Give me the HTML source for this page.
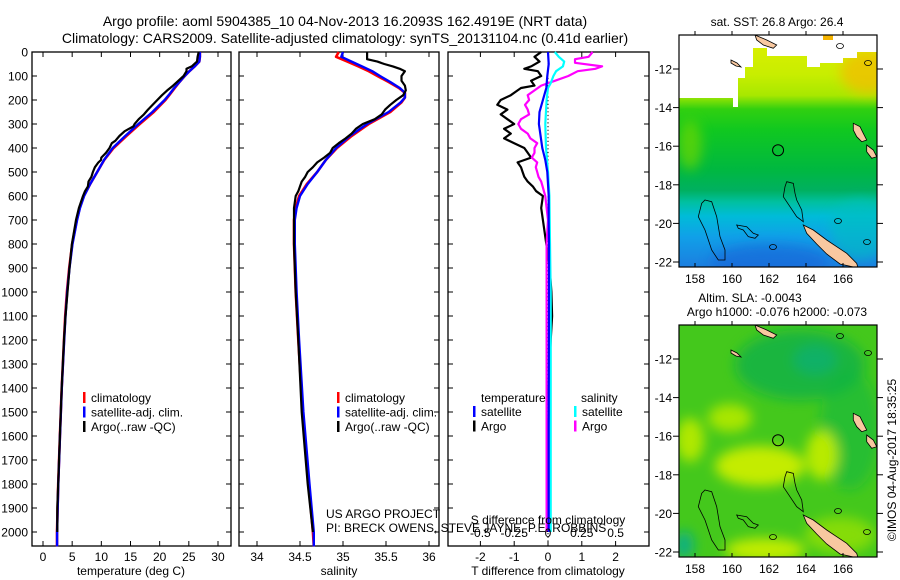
<!DOCTYPE html>
<html><head><meta charset="utf-8"><style>
html,body{margin:0;padding:0;background:#fff}
svg{display:block;font-family:"Liberation Sans",sans-serif}
text{fill:#000}
</style></head><body>
<svg id="c" width="900" height="580" viewBox="0 0 900 580" xmlns="http://www.w3.org/2000/svg">
<defs>
<linearGradient id="g1" x1="0" y1="0" x2="0" y2="1">
<stop offset="0" stop-color="#e0f000"/><stop offset="0.17" stop-color="#c8ee00"/><stop offset="0.26" stop-color="#a8e800"/>
<stop offset="0.32" stop-color="#30d010"/><stop offset="0.41" stop-color="#10c820"/><stop offset="0.58" stop-color="#00b840"/>
<stop offset="0.67" stop-color="#00b060"/><stop offset="0.72" stop-color="#00c0a0"/><stop offset="0.78" stop-color="#00bcd8"/>
<stop offset="0.87" stop-color="#10a0e8"/><stop offset="1" stop-color="#1c7ee0"/>
</linearGradient>
<filter id="bl" x="-50%" y="-50%" width="200%" height="200%"><feGaussianBlur stdDeviation="6"/></filter>
<clipPath id="cm1"><rect x="679" y="35" width="198" height="232"/></clipPath>
<clipPath id="cm2"><rect x="679" y="325" width="198" height="232"/></clipPath>
</defs>
<g id="titles">
<text x="345" y="26" font-size="14" text-anchor="middle">Argo profile: aoml 5904385_10 04-Nov-2013 16.2093S 162.4919E (NRT data)</text>
<text x="345" y="43" font-size="14" text-anchor="middle">Climatology: CARS2009. Satellite-adjusted climatology: synTS_20131104.nc (0.41d earlier)</text>
</g>
<g id="p1"></g>
<g id="p2"></g>
<g id="p3"></g>
<g id="m1">
<text x="777" y="26" font-size="12" text-anchor="middle">sat. SST: 26.8 Argo: 26.4</text>
<g clip-path="url(#cm1)">
<rect x="679" y="35" width="198" height="232" fill="url(#g1)"/>
<ellipse cx="770" cy="262" rx="60" ry="18" fill="#1565d8" opacity="0.6" filter="url(#bl)"/>
<ellipse cx="860" cy="230" rx="30" ry="30" fill="#00c0c0" opacity="0.6" filter="url(#bl)"/>
<ellipse cx="868" cy="72" rx="28" ry="22" fill="#f0c000" opacity="0.8" filter="url(#bl)"/>
<ellipse cx="690" cy="145" rx="12" ry="25" fill="#70d800" opacity="0.7" filter="url(#bl)"/>
<polygon points="679,35 679,98 733,98 733,107 738,107 738,78 745,78 745,67 753,67 753,48 767,48 767,56 807,56 807,67 820,67 820,63 843,63 843,58 857,58 857,52 877,52 877,35" fill="#fff"/>
<rect x="823" y="35" width="10" height="5" fill="#f5b400"/>
</g>
<g id="m1shapes"></g>
</g>
<g id="m2">
<text x="750" y="302" font-size="12" text-anchor="middle">Altim. SLA: -0.0043</text>
<text x="777" y="316" font-size="12" text-anchor="middle">Argo h1000: -0.076 h2000: -0.073</text>
<g clip-path="url(#cm2)">
<rect x="679" y="325" width="198" height="232" fill="#44c81c"/>
<g filter="url(#bl)">
<ellipse cx="800" cy="365" rx="65" ry="35" fill="#10b048" opacity="0.8"/>
<ellipse cx="815" cy="360" rx="22" ry="15" fill="#10b070" opacity="0.8"/>
<ellipse cx="850" cy="430" rx="30" ry="60" fill="#10b840" opacity="0.6"/>
<ellipse cx="760" cy="466" rx="45" ry="20" fill="#c4ec00"/>
<ellipse cx="822" cy="455" rx="16" ry="25" fill="#b8ea00"/>
<ellipse cx="690" cy="440" rx="14" ry="22" fill="#b0e800"/>
<ellipse cx="730" cy="418" rx="22" ry="14" fill="#a8e600"/>
<ellipse cx="765" cy="550" rx="40" ry="12" fill="#c0ec00"/>
<ellipse cx="840" cy="535" rx="35" ry="18" fill="#a0e400" opacity="0.7"/>
<ellipse cx="684" cy="545" rx="10" ry="14" fill="#10b080"/>
</g>
</g>
<g id="m2shapes"></g>
</g>
<text transform="translate(896,460) rotate(-90)" font-size="12" text-anchor="middle">©IMOS 04-Aug-2017 18:35:25</text>
<text x="326" y="518" font-size="12">US ARGO PROJECT</text>
<text x="326" y="532" font-size="12">PI: BRECK OWENS, STEVE JAYNE, P.E. ROBBINS</text>
</svg>
<script>
// ---- data ----
const climTDepth=[0,20,40,60,80,100,125,150,175,200,250,300,350,400,450,500,550,600,650,700,800,900,1000,1100,1200,1400,1600,1800,2000,2060];
const climT=[26.9,26.9,26.8,26.0,25.1,24.3,23.4,22.6,21.8,21.0,19.0,16.6,14.3,12.1,10.5,9.3,8.1,7.0,6.3,5.8,5.0,4.5,4.1,3.8,3.6,3.2,2.9,2.6,2.4,2.4];
const satT=[26.9,26.9,26.8,26.0,25.1,24.3,23.4,22.5,21.7,20.85,18.75,16.35,14.1,11.95,10.45,9.3,8.1,7.05,6.35,5.85,5.05,4.55,4.15,3.85,3.63,3.22,2.92,2.62,2.42,2.42];
const argoTDepth=[0,20,40,60,70,80,100,120,140,150,160,180,200,220,240,260,280,300,310,330,350,370,380,400,420,440,450,460,480,500,520,540,560,580,600,650,700,800,900,1000,1100,1200,1400,1600,1800,1900,2000];
const argoT=[26.7,26.5,26.4,25.5,24.6,24.6,24.1,23.2,22.3,21.8,21.3,20.4,19.6,18.8,18.0,17.3,16.4,15.7,15.5,14.0,13.1,12.4,11.8,11.4,10.8,10.0,9.95,9.5,8.9,8.55,8.3,7.8,7.7,7.2,6.85,6.15,5.65,4.95,4.55,4.2,3.85,3.6,3.2,2.9,2.6,2.45,2.45];
const climSDepth=[0,20,40,60,80,100,125,150,170,190,210,250,300,350,400,450,500,550,600,650,700,800,1000,1200,1500,1800,2000,2060];
const climS=[34.95,34.92,35.05,35.18,35.3,35.4,35.53,35.65,35.72,35.72,35.68,35.55,35.3,35.1,34.93,34.8,34.7,34.58,34.49,34.45,34.43,34.43,34.45,34.48,34.53,34.6,34.65,34.66];
const satS=[35.0,34.98,35.1,35.22,35.34,35.43,35.55,35.66,35.72,35.72,35.67,35.53,35.28,35.08,34.92,34.8,34.7,34.59,34.5,34.46,34.44,34.44,34.46,34.49,34.54,34.61,34.66,34.66];
const argoSDepth=[0,10,20,30,40,50,60,70,80,90,100,120,140,160,180,200,220,240,260,280,300,320,340,360,380,400,420,440,460,480,500,520,540,560,580,600,650,700,800,1000,1200,1500,1800,2000];
const argoS=[35.28,35.28,35.28,35.28,35.4,35.48,35.58,35.66,35.72,35.7,35.68,35.68,35.72,35.73,35.7,35.62,35.55,35.49,35.45,35.37,35.23,35.15,35.1,35.03,34.95,34.88,34.85,34.78,34.7,34.65,34.59,34.56,34.52,34.5,34.48,34.45,34.43,34.43,34.43,34.45,34.48,34.52,34.59,34.65];
const argoTdDepth=[0,20,40,60,70,80,100,120,140,150,160,180,200,220,240,260,280,300,320,340,350,360,380,400,420,440,460,480,500,520,540,560,580,600,650,700,750,800,900,1000,1100,1200,1300,1400,1500,1600,1700,1800,1900,2000];
const argoTd=[-0.2,-0.4,-0.25,-0.5,-0.7,-0.3,-0.2,-0.5,-0.4,-0.8,-0.9,-1.1,-1.4,-1.5,-1.2,-1.4,-1.2,-1.0,-1.3,-1.1,-1.2,-1.3,-1.0,-0.7,-0.6,-0.5,-0.9,-0.8,-0.75,-0.7,-0.6,-0.45,-0.35,-0.15,-0.2,-0.15,-0.1,-0.05,0.05,0.1,0.12,0.08,0.05,0.02,0.03,0.0,0.0,-0.02,0,0];
const satTdDepth=[0,50,100,150,200,250,300,350,400,450,500,600,700,800,1000,1500,2000];
const satTd=[0,0.02,-0.02,-0.05,-0.15,-0.25,-0.27,-0.22,-0.17,-0.08,-0.02,0.02,0.02,0.03,0.03,0.02,0.02];
const argoSdDepth=[0,20,30,45,60,70,80,100,120,140,160,180,200,220,240,260,280,300,320,340,360,380,400,420,440,460,480,500,520,540,560,580,600,650,700,800,1000,1500,2000];
const argoSd=[0.33,0.3,0.2,0.2,0.4,0.35,0.22,0.15,0.05,-0.05,-0.1,-0.15,-0.14,-0.17,-0.15,-0.14,-0.2,-0.22,-0.2,-0.15,-0.13,-0.08,-0.1,-0.1,-0.12,-0.08,-0.09,-0.08,-0.07,-0.05,-0.04,-0.03,-0.02,-0.01,0,-0.01,-0.01,-0.01,-0.01];
const satSdDepth=[0,20,40,60,80,100,130,150,200,300,400,500,600,800,1000,2000];
const satSd=[0.05,0.08,0.12,0.11,0.06,0.04,0.02,0.0,-0.01,-0.02,-0.015,0.0,0.01,0.015,0.02,0.02];
const depthTicks=[0,100,200,300,400,500,600,700,800,900,1000,1100,1200,1300,1400,1500,1600,1700,1800,1900,2000];
const tempTicks=[0,5,10,15,20,25,30];
const salTicks=[34,34.5,35,35.5,36];
const tdTicks=[-2,-1,0,1,2];
const sdTicks=[-0.5,-0.25,0,0.25,0.5];
const lonTicks=[158,160,162,164,166];
const latTicks=[-12,-14,-16,-18,-20,-22];
const argoLon=162.49, argoLat=-16.21;

// ---- scales ----
const NS='http://www.w3.org/2000/svg';
const yD=d=>52+d*0.24;
const xT=t=>43+t*5.833;
const xS=s=>257+86*(s-34);
const xTd=t=>548+33.8*t;
const xSd=s=>548+135.2*s;
const xLon=l=>695+(l-158)*18.5;
const yLat=(l,off)=>69+(-12-l)*19.3+off;
function el(p,tag,a){const e=document.createElementNS(NS,tag);for(const k in a)e.setAttribute(k,a[k]);p.appendChild(e);return e;}
function txt(p,x,y,s,anchor,size){const e=el(p,'text',{x:x,y:y,'font-size':size||12,'text-anchor':anchor||'middle'});e.textContent=s;return e;}
function line(p,xs,ds,fx,color,w,name){
  const pts=xs.map((v,i)=>fx(v).toFixed(1)+','+yD(ds[i]).toFixed(1)).join(' ');
  const e=el(p,'polyline',{points:pts,fill:'none',stroke:color,'stroke-width':w||2.4,'stroke-linejoin':'round'});
  
  
}
function frame(p,x0,x1,name,left){
  const r=el(p,'rect',{x:x0,y:52,width:x1-x0,height:494,fill:'none',stroke:'#000','stroke-width':1.3});
  
  
  depthTicks.forEach(d=>{const y=yD(d);
    el(p,'line',{x1:x0,x2:x0+5,y1:y,y2:y,stroke:'#000'});
    el(p,'line',{x1:x1,x2:x1-5,y1:y,y2:y,stroke:'#000'});
    if(left){const t=txt(p,x0-4,y+4.5,String(d),'end',12);
      
      }
  });
}
function xticks(p,ticks,fx,labels){
  ticks.forEach(v=>{const x=fx(v);
    el(p,'line',{x1:x,x2:x,y1:546,y2:541,stroke:'#000'});
    el(p,'line',{x1:x,x2:x,y1:52,y2:57,stroke:'#000'});
    if(labels){const t=txt(p,x,561,String(v),'middle',12);
      
      }
  });
}
function legend(p,x,y,items){
  items.forEach((it,i)=>{
    const r=el(p,'rect',{x:x,y:y+i*14.5-6,width:2.5,height:11,fill:it[1]});
    
    
    const t=txt(p,x+8,y+i*14.5+4,it[0],'start',12);
    
    
  });
}
// ---- panel 1 ----
const p1=document.getElementById('p1');
frame(p1,32,231,'temperature-axes',true);
xticks(p1,tempTicks,xT,true);
line(p1,climT,climTDepth,xT,'#f00',2.6,'temperature-climatology-line');
line(p1,satT,climTDepth,xT,'#00f',2.4,'temperature-satellite-line');
line(p1,argoT,argoTDepth,xT,'#000',2.2,'temperature-argo-line');
legend(p1,83,398,[['climatology','#f00'],['satellite-adj. clim.','#00f'],['Argo(..raw -QC)','#000']]);
{const t=txt(p1,131,575,'temperature (deg C)','middle',12);}
// ---- panel 2 ----
const p2=document.getElementById('p2');
frame(p2,239,439,'salinity-axes',false);
xticks(p2,salTicks,xS,true);
line(p2,climS,climSDepth,xS,'#f00',2.6,'salinity-climatology-line');
line(p2,satS,climSDepth,xS,'#00f',2.4,'salinity-satellite-line');
line(p2,argoS,argoSDepth,xS,'#000',2.2,'salinity-argo-line');
legend(p2,337,398,[['climatology','#f00'],['satellite-adj. clim.','#00f'],['Argo(..raw -QC)','#000']]);
{const t=txt(p2,339,575,'salinity','middle',12);}
// ---- panel 3 ----
const p3=document.getElementById('p3');
frame(p3,448,649,'difference-axes',false);
xticks(p3,tdTicks,xTd,true);
el(p3,'line',{x1:xTd(0),x2:xTd(0),y1:52,y2:546,stroke:'#000','stroke-dasharray':'1.2,2.5','stroke-width':1});
line(p3,argoTd,argoTdDepth,xTd,'#000',2.2,'tdiff-argo-line');
line(p3,argoSd,argoSdDepth,xSd,'#f0f',2.2,'sdiff-argo-line');
line(p3,satSd,satSdDepth,xSd,'#0ff',2.2,'sdiff-satellite-line');
line(p3,satTd,satTdDepth,xTd,'#00f',2.2,'tdiff-satellite-line');
sdTicks.forEach(v=>{const t=txt(p3,xSd(v),537,String(v),'middle',12);});
{const t=txt(p3,548,524,'S difference from climatology','middle',12);}
{const t=txt(p3,548,575,'T difference from climatology','middle',12);}
{const t=txt(p3,481,402,'temperature','start',12);}
{const t=txt(p3,581,402,'salinity','start',12);}
legend(p3,473,412,[['satellite','#00f'],['Argo','#000']]);
legend(p3,574,412,[['satellite','#0ff'],['Argo','#f0f']]);
// ---- maps ----
const islands=[
 [[803.3,225],[813.3,230],[826.7,240],[836.7,246.7],[846.7,253.3],[856.7,263.3],[858,268],[840,264],[826.7,254],[816.7,244],[806.7,233.3]],
 [[755,35],[766.7,40],[776.7,45],[773.3,48.3],[763.3,45],[756.7,40]],
 [[853.3,123.3],[860,126.7],[863.3,133.3],[866.7,140],[861.7,141.7],[856.7,136.7],[853.3,130]],
 [[866.7,145],[873.3,150],[876.7,156.7],[871.7,158.3],[866.7,151.7]],
 [[731,60],[737,63],[741,67],[736,66],[731,63]]
];
const coasts=[
 [[705,200],[711.7,201.7],[716.7,216.7],[720,236.7],[725,250],[725,260],[718.3,260],[711.7,250],[705,230],[698.3,216.7],[701.7,203.3]],
 [[736.7,225],[746.7,226.7],[753.3,233.3],[758.3,235],[755,238.3],[748.3,236.7],[743.3,230],[738.3,228.3]],
 [[786.7,181.7],[793.3,183.3],[795,193.3],[796.7,200],[801.7,210],[803.3,221.7],[796.7,216.7],[790,206.7],[783.3,196.7],[785,186.7]]
];
function drawMap(gid,off,cid){
  const g=document.getElementById(gid);
  const c=el(g,'g',{'clip-path':'url(#'+cid+')'});
  islands.forEach(is=>{const e=el(c,'polygon',{points:is.map(p=>p[0]+','+(p[1]+off)).join(' '),fill:'#f8c8a0',stroke:'#000','stroke-width':0.8});
    });
  [[867,242],[840,46],[838,221],[773,247],[868,63]].forEach(p=>el(c,'ellipse',{cx:p[0],cy:p[1]+off,rx:3.5,ry:2.5,fill:'none',stroke:'#000','stroke-width':0.8}));
  coasts.forEach(is=>{const e=el(c,'polygon',{points:is.map(p=>p[0]+','+(p[1]+off)).join(' '),fill:'none',stroke:'#000','stroke-width':0.8});
    });
  const m=el(g,'circle',{cx:xLon(argoLon),cy:yLat(argoLat,off),r:5.5,fill:'none',stroke:'#000','stroke-width':1});
  
  const top=35+off, bot=267+off;
  const f=el(g,'rect',{x:679,y:top,width:198,height:232,fill:'none',stroke:'#000','stroke-width':1.2});
  
  lonTicks.forEach(l=>{const x=xLon(l);
    el(g,'line',{x1:x,x2:x,y1:top,y2:top-4,stroke:'#000'});
    el(g,'line',{x1:x,x2:x,y1:bot,y2:bot-4,stroke:'#000'});
    const t=txt(g,x,bot+16,String(l),'middle',12);});
  latTicks.forEach(l=>{const y=yLat(l,off);
    el(g,'line',{x1:679,x2:673,y1:y,y2:y,stroke:'#000'});
    el(g,'line',{x1:877,x2:883,y1:y,y2:y,stroke:'#000'});
    const t=txt(g,672,y+4.5,String(l),'end',12);});
}
drawMap('m1shapes',0,'cm1');
drawMap('m2shapes',290,'cm2');
</script>
</body></html>
